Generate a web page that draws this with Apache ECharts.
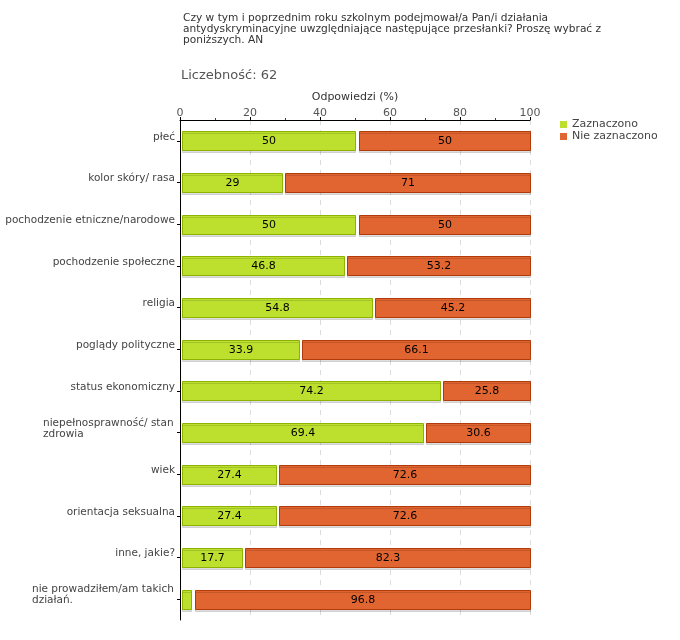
<!DOCTYPE html>
<html><head><meta charset="utf-8">
<script src="https://cdn.jsdelivr.net/npm/echarts@6/dist/echarts.min.js"></script>
<style>html,body{margin:0;padding:0;background:#fff}#c{width:680px;height:640px}</style>
</head><body><div id="c"></div>
<script>
const categories = ['płeć','kolor skóry/ rasa','pochodzenie etniczne/narodowe','pochodzenie społeczne','religia','poglądy polityczne','status ekonomiczny','niepełnosprawność/ stan zdrowia','wiek','orientacja seksualna','inne, jakie?','nie prowadziłem/am takich działań.'];
const zaznaczono = [50,29,50,46.8,54.8,33.9,74.2,69.4,27.4,27.4,17.7,3.2];
const nieZaznaczono = [50,71,50,53.2,45.2,66.1,25.8,30.6,72.6,72.6,82.3,96.8];
const xTicks = [0,20,40,60,80,100];
const seriesNames = ['Zaznaczono','Nie zaznaczono'];

const FONT = "'DejaVu Sans', Verdana, sans-serif";
const CAT_FS = 10.5;
const GREEN = '#bde02e', GREEN_B = '#8db300';
const ORANGE = '#e06530', ORANGE_B = '#b03a0a';

const wrapped = {
  'niepełnosprawność/ stan zdrowia': ['niepełnosprawność/ stan','zdrowia'],
  'nie prowadziłem/am takich działań.': ['nie prowadziłem/am takich','działań.']
};
const mctx = document.createElement('canvas').getContext('2d');
mctx.font = CAT_FS + 'px ' + FONT;
const rich = {};
Object.keys(wrapped).forEach((k,i)=>{
  const w = Math.ceil(mctx.measureText(wrapped[k][0]).width) + 1;
  wrapped[k].push('r'+i);
  rich['r'+i] = {width:w, align:'left', fontSize:CAT_FS, color:'#444', lineHeight:11, fontFamily:FONT};
});

function makeRender(segIdx, fill, stroke){
  return function(params, api){
    const idx = api.value(0);
    const start = api.value(1), end = api.value(2);
    const p0 = api.coord([start, idx]);
    const p1 = api.coord([end, idx]);
    const band = api.size([0,1])[1];
    const h = Math.round(band*0.46);
    const inset = segIdx === 0 ? 2 : 3.5;
    const x = Math.round(p0[0] + inset) + 0.5;
    const x2 = Math.round(p1[0]) + 0.5;
    const y = Math.round(p0[1] - h/2) + 0.5;
    const w = Math.max(x2 - x, 1);
    const val = end - start;
    const txt = Math.round(val*10)/10;
    return {
      type:'rect',
      shape:{x:x, y:y, width:w, height:h},
      style:{fill:fill, stroke:stroke, lineWidth:1, shadowColor:'rgba(0,0,0,0.13)', shadowOffsetY:2, shadowOffsetX:0, shadowBlur:0},
      textContent: w > 22 ? {style:{text:String(txt), fill:'#000', font:'11px '+FONT}} : undefined,
      textConfig: {position:'inside'}
    };
  };
}

const greenData = categories.map((c,i)=>[i, 0, zaznaczono[i]]);
const orangeData = categories.map((c,i)=>[i, zaznaczono[i], zaznaczono[i]+nieZaznaczono[i]]);

const chart = echarts.init(document.getElementById('c'), null, {renderer:'canvas'});
chart.setOption({
  animation:false,
  backgroundColor:'#fff',
  textStyle:{fontFamily:FONT},
  title:[
    {text:'Czy w tym i poprzednim roku szkolnym podejmował/a Pan/i działania\nantydyskryminacyjne uwzględniające następujące przesłanki? Proszę wybrać z\nponiższych. AN',
     left:178, top:8, textStyle:{fontSize:10.6, fontWeight:'normal', color:'#333', lineHeight:11, fontFamily:FONT}},
    {text:'Liczebność: 62', left:176, top:64, textStyle:{fontSize:13, fontWeight:'normal', color:'#555', fontFamily:FONT}}
  ],
  legend:{
    orient:'vertical', left:555, top:114, itemWidth:7, itemHeight:7, itemGap:1, icon:'rect',
    textStyle:{fontSize:11, color:'#444', fontFamily:FONT},
    data:seriesNames
  },
  grid:{left:180, right:150, top:120, bottom:20, containLabel:false, outerBoundsMode:'none'},
  xAxis:{
    type:'value', position:'top', min:0, max:100, interval:20,
    name:'Odpowiedzi (%)', nameLocation:'middle', nameGap:13,
    nameTextStyle:{fontSize:11, color:'#333', fontFamily:FONT},
    axisLine:{show:true, lineStyle:{color:'#000', width:1}},
    axisTick:{show:true, length:3, lineStyle:{color:'#000'}},
    minorTick:{show:true, splitNumber:2, length:2, lineStyle:{color:'#e00000'}},
    axisLabel:{fontSize:11, color:'#555', margin:1, fontFamily:FONT,
      formatter:(v)=> xTicks.indexOf(v)>=0 ? String(v) : ''},
    splitLine:{show:true, lineStyle:{color:'#dcdcdc', type:[5,5]}}
  },
  yAxis:{
    type:'category', inverse:true, data:categories,
    axisLine:{show:true, lineStyle:{color:'#000', width:1}},
    axisTick:{show:true, alignWithLabel:true, length:3, lineStyle:{color:'#000'}},
    axisLabel:{
      fontSize:CAT_FS, color:'#444', margin:5, fontFamily:FONT, padding:[0,0,8,0],
      formatter:function(v){
        const wr = wrapped[v];
        if (wr) return '{'+wr[2]+'|'+wr[0]+'}\n{'+wr[2]+'|'+wr[1]+'}';
        return v;
      },
      rich:rich
    }
  },
  series:[
    {name:seriesNames[0], type:'custom', renderItem:makeRender(0, GREEN, GREEN_B),
     itemStyle:{color:GREEN}, encode:{x:[1,2], y:0}, data:greenData},
    {name:seriesNames[1], type:'custom', renderItem:makeRender(1, ORANGE, ORANGE_B),
     itemStyle:{color:ORANGE}, encode:{x:[1,2], y:0}, data:orangeData}
  ]
});
</script></body></html>
